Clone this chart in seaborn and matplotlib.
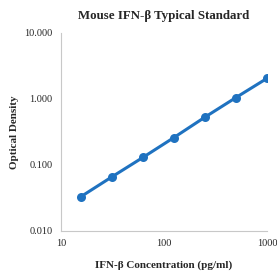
import numpy as np
import pandas as pd
import matplotlib
matplotlib.use("Agg")
import matplotlib.pyplot as plt
import seaborn as sns
from matplotlib.ticker import LogLocator, FixedLocator, FormatStrFormatter, NullFormatter

concentration = [15.6, 31.25, 62.5, 125, 250, 500, 1000]
optical_density = [0.033, 0.066, 0.13, 0.26, 0.53, 1.05, 2.05]

df = pd.DataFrame({"conc": concentration, "od": optical_density})

sns.set_style("white")
plt.rcParams["font.family"] = ["Liberation Serif", "DejaVu Serif"]

fig = plt.figure(figsize=(2.77, 2.72), dpi=100)
ax = fig.add_axes([0.22, 0.151, 0.744, 0.728])

sns.lineplot(data=df, x="conc", y="od", ax=ax, color="#1f72c0",
             linewidth=2.2, marker="o", markersize=6.5, markeredgewidth=0)

ax.set_xscale("log")
ax.set_yscale("log")
ax.set_xlim(10, 1000)
ax.set_ylim(0.01, 10)

ax.xaxis.set_major_locator(FixedLocator([10, 100, 1000]))
ax.xaxis.set_major_formatter(FormatStrFormatter("%d"))
ax.xaxis.set_minor_locator(LogLocator(base=10, subs=np.arange(2, 10)))
ax.xaxis.set_minor_formatter(NullFormatter())
ax.yaxis.set_major_locator(FixedLocator([0.01, 0.1, 1, 10]))
ax.yaxis.set_major_formatter(FormatStrFormatter("%.3f"))
ax.yaxis.set_minor_locator(LogLocator(base=10, subs=np.arange(2, 10)))
ax.yaxis.set_minor_formatter(NullFormatter())

for s in ["top", "right"]:
    ax.spines[s].set_visible(False)
for s in ["left", "bottom"]:
    ax.spines[s].set_color("#c8c8c8")
    ax.spines[s].set_linewidth(0.8)

ax.tick_params(axis="both", which="major", labelsize=7.5, length=0, pad=6)
ax.tick_params(axis="x", which="minor", direction="in", length=2.5, color="#c8c8c8")
ax.tick_params(axis="y", which="minor", direction="out", length=2.5, color="#c8c8c8")

ax.set_xlabel("IFN-β Concentration (pg/ml)", fontsize=8, fontweight="bold", labelpad=9)
ax.set_ylabel("Optical Density", fontsize=8, fontweight="bold", labelpad=4)
ax.set_title("Mouse IFN-β Typical Standard", fontsize=9.3, fontweight="bold", pad=10)

fig.savefig("out.png", dpi=100)
